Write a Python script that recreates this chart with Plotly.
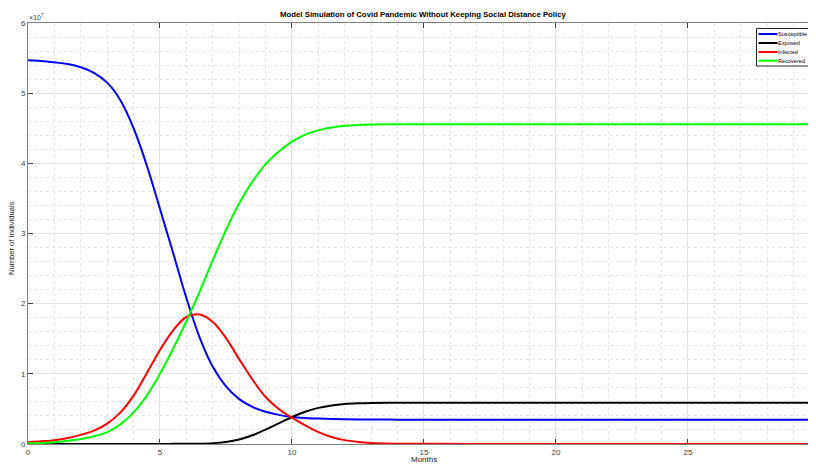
import plotly.graph_objects as go

# Time in months
months = [0, 0.5, 1, 1.5, 2, 2.5, 3, 3.5, 4, 4.5, 5, 5.5, 6, 6.5, 7, 7.5, 8, 8.5, 9, 9.5,
          10, 10.5, 11, 11.5, 12, 12.5, 13, 14, 15, 17, 20, 25, 29.9]

# Values in units of 1e7 individuals
susceptible = [5.47, 5.46, 5.44, 5.415, 5.37, 5.29, 5.15, 4.90, 4.50, 3.97, 3.35, 2.72, 2.08,
               1.52, 1.10, 0.82, 0.64, 0.53, 0.46, 0.415, 0.385, 0.37, 0.362, 0.357, 0.353,
               0.35, 0.349, 0.347, 0.346, 0.346, 0.346, 0.346, 0.346]
exposed = [0.0, 0.0, 0.0, 0.0, 0.0, 0.0, 0.0, 0.0, 0.0005, 0.0007, 0.001, 0.002, 0.003,
           0.005, 0.012, 0.03, 0.065, 0.125, 0.205, 0.295, 0.385, 0.46, 0.515, 0.55, 0.57,
           0.58, 0.585, 0.588, 0.589, 0.589, 0.589, 0.589, 0.589]
infected = [0.03, 0.04, 0.055, 0.085, 0.13, 0.19, 0.29, 0.45, 0.69, 1.01, 1.34, 1.62, 1.81,
            1.845, 1.74, 1.51, 1.21, 0.92, 0.67, 0.50, 0.375, 0.265, 0.17, 0.10, 0.055,
            0.03, 0.015, 0.005, 0.002, 0.001, 0.001, 0.001, 0.001]
recovered = [0.01, 0.015, 0.025, 0.045, 0.07, 0.11, 0.17, 0.28, 0.45, 0.69, 1.00, 1.36, 1.75,
             2.17, 2.62, 3.05, 3.43, 3.74, 3.99, 4.17, 4.31, 4.41, 4.47, 4.51, 4.535,
             4.548, 4.555, 4.557, 4.558, 4.558, 4.558, 4.558, 4.558]

series_names = ["Susceptible", "Exposed", "Infected", "Recovered"]
series_values = [susceptible, exposed, infected, recovered]
series_colors = ["#0000ff", "#000000", "#ff0000", "#00ff00"]

y_tick_values = [0, 1, 2, 3, 4, 5, 6]
y_tick_labels = ["0", "1", "2", "3", "4", "5", "6"]
x_tick_values = [0, 5, 10, 15, 20, 25]

SCALE = 1e7
OFF = 8  # default page body margin
W, H = 816 - OFF, 465 - OFF
ML, MR, MT = 28 - OFF, 0, 23 - OFF
MB = H - (444 - OFF)
PW, PH = W - ML - MR, H - MT - MB


def px_x(p):
    return (p - OFF - ML) / PW


def px_y(p):
    return (H - MB - (p - OFF)) / PH


fig = go.Figure()
for name, vals, col in zip(series_names, series_values, series_colors):
    fig.add_trace(go.Scatter(
        x=months, y=[v * SCALE for v in vals], mode="lines", name=name,
        line=dict(color=col, width=2, shape="spline", smoothing=1.0),
    ))

font_family = "Liberation Sans, Arial, Helvetica, sans-serif"
axis_col = "#808080"
tick_font = dict(family=font_family, size=8, color="#404040")

fig.update_layout(
    width=W, height=H,
    margin=dict(l=ML, r=MR, t=MT, b=MB, autoexpand=False),
    paper_bgcolor="white", plot_bgcolor="white",
    font=dict(family=font_family, size=8, color="#262626"),
    showlegend=False,
)

fig.update_xaxes(
    range=[0, 29.85], tickvals=x_tick_values, ticks="inside", ticklen=5,
    tickcolor="#404040", tickfont=tick_font, automargin=False,
    showline=True, linecolor=axis_col, linewidth=1, mirror="ticks",
    showgrid=True, gridcolor="#e3e3e3", gridwidth=1, zeroline=False,
    minor=dict(dtick=1, showgrid=True, gridcolor="#e6e6e6", griddash="dot", gridwidth=1),
)
fig.update_yaxes(
    range=[0, 6 * SCALE], tickvals=[v * SCALE for v in y_tick_values], ticktext=y_tick_labels,
    ticks="inside", ticklen=5, tickcolor="#404040", tickfont=tick_font, automargin=False,
    showline=True, linecolor=axis_col, linewidth=1, mirror=False,
    showgrid=True, gridcolor="#e3e3e3", gridwidth=1, zeroline=False,
    minor=dict(dtick=0.2 * SCALE, tick0=0, showgrid=True, gridcolor="#e6e6e6", griddash="dot", gridwidth=1),
)

# Title
fig.add_annotation(text="<b>Model Simulation of Covid Pandemic Without Keeping Social Distance Policy</b>",
                   xref="paper", yref="paper", x=px_x(424), y=px_y(15), xanchor="center", yanchor="middle",
                   showarrow=False, font=dict(family=font_family, size=7.8, color="#000000"))
# Axis titles
fig.add_annotation(text="Months", xref="paper", yref="paper", x=px_x(424), y=px_y(460),
                   xanchor="center", yanchor="middle", showarrow=False,
                   font=dict(family=font_family, size=8, color="#262626"))
fig.add_annotation(text="Number of Individuals", xref="paper", yref="paper", x=px_x(12), y=px_y(238),
                   xanchor="center", yanchor="middle", textangle=-90, showarrow=False,
                   font=dict(family=font_family, size=7.6, color="#262626"))
# Exponent label
fig.add_annotation(text="×10<sup>7</sup>", xref="paper", yref="paper", x=px_x(27), y=px_y(23),
                   xanchor="left", yanchor="bottom", showarrow=False,
                   font=dict(family=font_family, size=7, color="#404040"))

# Legend box (MATLAB style)
fig.add_shape(type="rect", xref="paper", yref="paper",
              x0=px_x(756.5), x1=px_x(812.5), y0=px_y(66), y1=px_y(28.5),
              line=dict(color="#262626", width=1), fillcolor="white", layer="above")
legend_rows = [34, 43, 52, 60.7]
for name, col, ry in zip(series_names, series_colors, legend_rows):
    fig.add_shape(type="line", xref="paper", yref="paper",
                  x0=px_x(758.5), x1=px_x(777.5), y0=px_y(ry), y1=px_y(ry),
                  line=dict(color=col, width=2), layer="above")
    fig.add_annotation(text=name, xref="paper", yref="paper", x=px_x(777), y=px_y(ry),
                       xanchor="left", yanchor="middle", showarrow=False, borderpad=0,
                       font=dict(family=font_family, size=5.6, color="#000000"))

fig.write_html("out.html")
